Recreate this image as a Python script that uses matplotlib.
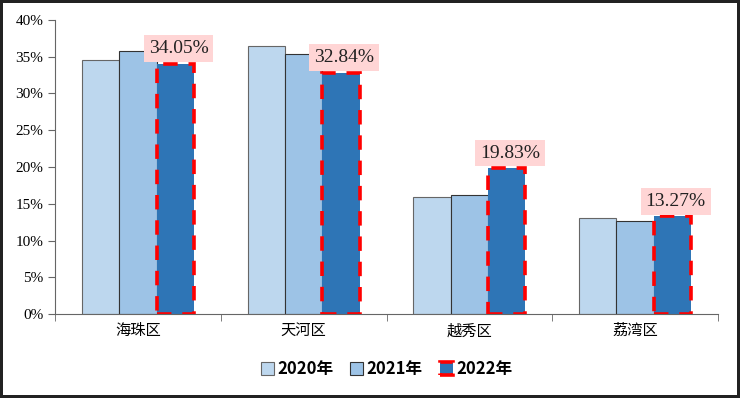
import matplotlib.pyplot as plt
import numpy as np

plt.rcParams['font.family'] = ['Noto Sans CJK SC', 'DejaVu Sans']

districts = ['海珠区', '天河区', '越秀区', '荔湾区']
years = ['2020年', '2021年', '2022年']
v2020 = [34.6, 36.4, 15.9, 13.1]
v2021 = [35.8, 35.4, 16.2, 12.7]
v2022 = [34.05, 32.84, 19.83, 13.27]

colors = ['#BDD7EE', '#9DC3E6', '#2E75B6']

fig = plt.figure(figsize=(7.4, 3.98), dpi=100)
fig.patch.set_edgecolor('#222222')
fig.patch.set_linewidth(3)
ax = fig.add_axes([55/740, 84/398, 663/740, 294/398])

x = np.arange(len(districts))
w = 0.225
ax.bar(x - w, v2020, w, color=colors[0], edgecolor='#666666', linewidth=0.8, label=years[0])
ax.bar(x, v2021, w, color=colors[1], edgecolor='#333333', linewidth=0.8, label=years[1])
ax.bar(x + w, v2022, w, color=colors[2], edgecolor='#FF0000', linewidth=2.6,
       linestyle=(0, (4, 3)), label=years[2])

for xi, v in zip(x, v2022):
    ax.text(xi + w + 0.02, v + 0.9, '%.2f%%' % v, ha='center', va='bottom',
            fontsize=14, family='Liberation Serif', color='#222222',
            bbox=dict(boxstyle='square,pad=0.25', fc='#FFD5D5', ec='none'))

ax.set_xlim(-0.5, 3.5)
ax.set_ylim(0, 40)
ax.set_yticks(np.arange(0, 41, 5))
ax.set_yticklabels(['%d%%' % t for t in range(0, 41, 5)], family='Liberation Serif', fontsize=11)
ax.set_xticks(x)
ax.set_xticklabels(districts, fontsize=11)
ax.set_xticks(np.arange(-0.5, 4.0, 1.0), minor=True)
ax.tick_params(axis='x', which='major', length=0, pad=6)
ax.tick_params(axis='x', which='minor', length=5, color='#666666')
ax.tick_params(axis='y', length=5, color='#666666')
for s in ['top', 'right']:
    ax.spines[s].set_visible(False)
for s in ['left', 'bottom']:
    ax.spines[s].set_color('#666666')

ax.legend(loc='lower center', bbox_to_anchor=(0.5, -0.27), ncol=3, frameon=False,
          prop={'size': 12, 'weight': 'bold'}, handlelength=0.8, handleheight=0.8,
          handletextpad=0.2, columnspacing=1.0)

fig.savefig('out.png', dpi=100)
